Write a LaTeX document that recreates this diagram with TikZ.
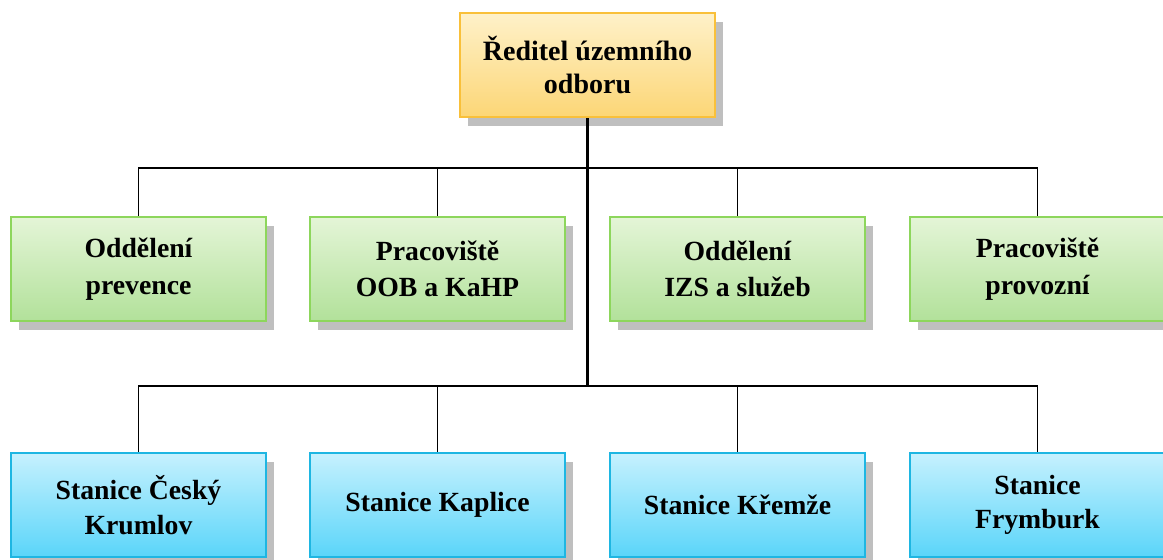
\documentclass[tikz,border=0pt]{standalone}
\usepackage{fontspec}
\setmainfont{Liberation Serif}
\usetikzlibrary{shadows}
\definecolor{ytop}{HTML}{FEF1C9}
\definecolor{ybot}{HTML}{FCD676}
\definecolor{ydraw}{HTML}{F9C03A}
\definecolor{gtop}{HTML}{E4F5D7}
\definecolor{gbot}{HTML}{B2E19A}
\definecolor{gdraw}{HTML}{8DD65C}
\definecolor{btop}{HTML}{C6F1FE}
\definecolor{bbot}{HTML}{5AD5F9}
\definecolor{bdraw}{HTML}{1EB6E2}
\definecolor{shadowgray}{HTML}{BFBFBF}
\begin{document}
\begin{tikzpicture}[x=0.75pt,y=-0.75pt,
  box/.style={draw, line width=1.5pt, minimum width=191.5pt, minimum height=78pt,
    inner sep=0pt, align=center,
    drop shadow={shadow xshift=6pt, shadow yshift=-7pt, fill=shadowgray, opacity=1}},
  topbox/.style={box, draw=ydraw, top color=ytop, bottom color=ybot,
    font=\fontsize{21}{25}\selectfont\bfseries},
  gbox/.style={box, draw=gdraw, top color=gtop, bottom color=gbot,
    font=\fontsize{20.8}{27.5}\selectfont\bfseries},
  bbox/.style={box, draw=bdraw, top color=btop, bottom color=bbot,
    font=\fontsize{20.8}{26}\selectfont\bfseries},
  conn/.style={draw=black, line width=1.2pt},
  trunk/.style={draw=black, line width=2.2pt}]
\useasboundingbox (0,0) rectangle (1163,560);
\clip (0,0) rectangle (1163,560);

\node[topbox] (dir) at (587.5,65) {Ředitel územního\\odboru};

\node[gbox] (g1) at (138.5,269) {Oddělení\\prevence};
\node[gbox] (g2) at (437.5,269) {Pracoviště\\OOB a KaHP};
\node[gbox] (g3) at (737.5,269) {Oddělení\\IZS a služeb};
\node[gbox] (g4) at (1037.5,269) {Pracoviště\\provozní};

\node[bbox] (b1) at (138.5,505) {Stanice Český\\Krumlov};
\node[bbox] (b2) at (437.5,505) {Stanice Kaplice};
\node[bbox] (b3) at (737.5,505) {Stanice Křemže};
\node[bbox] (b4) at (1037.5,505) {Stanice\\Frymburk};

\coordinate (bus1) at (587.5,168);
\coordinate (bus2) at (587.5,386);

\draw[conn] (bus1) -| (g1.north);
\draw[conn] (bus1) -| (g2.north);
\draw[conn] (bus1) -| (g3.north);
\draw[conn] (bus1) -| (g4.north);
\draw[conn] (bus2) -| (b1.north);
\draw[conn] (bus2) -| (b2.north);
\draw[conn] (bus2) -| (b3.north);
\draw[conn] (bus2) -| (b4.north);
\draw[trunk] (dir.south) -- (bus2);
\end{tikzpicture}
\end{document}
